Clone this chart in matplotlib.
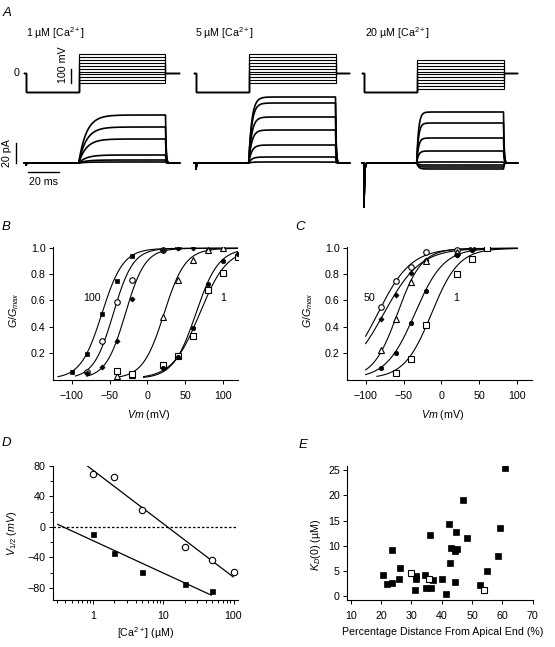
import numpy as np
import matplotlib
matplotlib.use("Agg")
import matplotlib.pyplot as plt
from matplotlib.ticker import MultipleLocator, FixedLocator, LogLocator, NullFormatter, FixedFormatter

plt.rcParams['font.family'] = ['Liberation Sans', 'DejaVu Sans']
plt.rcParams['mathtext.fontset'] = 'custom'
plt.rcParams['mathtext.rm'] = 'Liberation Sans'
plt.rcParams['mathtext.it'] = 'Liberation Sans:italic'
plt.rcParams['mathtext.bf'] = 'Liberation Sans:bold'
FS = 7.7
plt.rcParams['font.size'] = FS

# ---------------- data ----------------
# Panel A: voltage protocols (mV, ms) and current amplitudes (pA)
a_titles = ["1 \u00b5M [Ca$^{2+}$]", "5 \u00b5M [Ca$^{2+}$]", "20 \u00b5M [Ca$^{2+}$]"]
a_hold_mv = -130
a_pre_ms = 34
a_test_ms = 56
a_post_ms = 9
a_steps_1 = [-70, -50, -30, -10, 10, 30, 50, 70, 90, 110, 130]
a_steps_5 = [-70, -50, -30, -10, 10, 30, 50, 70, 90, 110, 130]
a_steps_20 = [-110, -90, -70, -50, -30, -10, 10, 30, 50, 70, 90]
a_amp_1 = [48, 36, 24, 8, 3, 1]
a_amp_5 = [66, 60, 46, 33, 18, 6, 1]
a_amp_20 = [51, 40, 25, 12, 1, -2, -4, -6]
a_tau_ms = [5.0, 2.0, 1.2]
a_cap_pa = [-2, -6, -44]

# Panel B: G/Gmax vs Vm
b_fsq_v = [-100, -80, -60, -40, -20, 20]
b_fsq_g = [0.05, 0.19, 0.50, 0.75, 0.94, 0.99]
b_ocirc_v = [-80, -60, -40, -20, 20, 40]
b_ocirc_g = [0.05, 0.29, 0.59, 0.76, 0.99, 1.01]
b_fdia_v = [-80, -60, -40, -20, 20, 40, 60, 80]
b_fdia_g = [0.04, 0.09, 0.29, 0.61, 0.99, 1.0, 1.0, 0.99]
b_otri_v = [-40, -20, 20, 40, 60, 80, 100]
b_otri_g = [0.02, 0.03, 0.47, 0.76, 0.91, 0.99, 1.0]
b_osq_v = [-40, -20, 20, 40, 60, 80, 100, 120]
b_osq_g = [0.06, 0.035, 0.105, 0.175, 0.33, 0.68, 0.81, 0.93]
b_fcirc_v = [20, 40, 60, 80, 100, 120]
b_fcirc_g = [0.08, 0.17, 0.39, 0.73, 0.90, 0.96]
# Boltzmann fits: (V1/2, slope k, start, end)
b_fits = [(-60, 14, -118, 120), (-45, 13, -95, 120), (-29, 13, -80, 120),
          (22, 14, -38, 120), (64, 15, -5, 120), (69, 18, -5, 120)]

# Panel C
c_ocirc_v = [-80, -60, -40, -20, 20, 40]
c_ocirc_g = [0.55, 0.75, 0.86, 0.97, 0.99, 1.0]
c_fdia_v = [-80, -60, -40, -20, 20, 40]
c_fdia_g = [0.46, 0.64, 0.81, 0.91, 0.95, 0.99]
c_otri_v = [-80, -60, -40, -20, 20, 40]
c_otri_g = [0.22, 0.46, 0.74, 0.90, 0.97, 1.01]
c_fcirc_v = [-80, -60, -40, -20, 20, 40]
c_fcirc_g = [0.08, 0.20, 0.43, 0.67, 0.95, 0.99]
c_osq_v = [-60, -40, -20, 20, 40, 60]
c_osq_g = [0.04, 0.15, 0.41, 0.80, 0.92, 1.0]
c_fits = [(-84, 22, -100, 100), (-76, 24, -100, 100), (-58, 16, -100, 100),
          (-35, 19, -100, 100), (-13, 18, -85, 100)]

# Panel D: V1/2 vs [Ca2+]
d_ca_open = [1, 2, 5, 20, 50, 100]
d_v_open = [70, 66, 22, -27, -43, -59]
d_ca_filled = [1, 2, 5, 20, 50]
d_v_filled = [-9, -34, -59, -75, -84]
# line fits: V = a + b*log10(Ca), drawn over [lo, hi]
d_fit_open = (74, -70, 0.82, 99)
d_fit_filled = (-18.3, -42.4, 0.31, 48)

# Panel E: KD(0) vs distance
e_dist_f = [20.5, 22.1, 23.6, 23.6, 25.9, 26.4, 31.5, 31.5, 31.1, 34.5, 37.2, 34.8, 36.4,
            36.1, 40.2, 41.4, 42.4, 42.6, 43.0, 44.5, 44.9, 44.3, 44.8, 46.9, 48.3, 52.6,
            54.8, 58.5, 59.1, 60.8]
e_kd_f = [4.2, 2.3, 2.5, 9.2, 3.3, 5.5, 4.0, 3.3, 1.2, 4.2, 3.2, 1.5, 1.5,
          12.2, 3.3, 0.4, 14.3, 6.6, 9.5, 8.9, 9.4, 2.8, 12.7, 19.0, 11.6, 2.2,
          4.9, 8.0, 13.5, 25.4]
e_dist_o = [29.8, 35.8, 54.0]
e_kd_o = [4.5, 3.3, 1.2]

# ---------------- figure ----------------
W, H = 555, 647
fig = plt.figure(figsize=(W / 100, H / 100), dpi=100)


def px_axes(x0, y0, x1, y1):
    return fig.add_axes([x0 / W, 1 - y1 / H, (x1 - x0) / W, (y1 - y0) / H])


def ftext(x, y, s, **kw):
    return fig.text(x / W, 1 - y / H, s, **kw)


# ---- Panel A ----
PX_MS = 1.55
PX_MV = 0.143
col_x0 = [26, 196, 364]
steps = [a_steps_1, a_steps_5, a_steps_20]
amps = [a_amp_1, a_amp_5, a_amp_20]
xl = (-26 / PX_MS, 166 / PX_MS)
end_t = a_pre_ms + a_test_ms + a_post_ms
for i in range(3):
    x0 = col_x0[i]
    axv = px_axes(x0 - 26, 40, x0 + 166, 100)
    axv.set_xlim(*xl)
    axv.set_ylim(-(100 - 73) / PX_MV, (73 - 40) / PX_MV)
    axv.axis('off')
    for v in steps[i]:
        t = [-1, 0, 0, a_pre_ms, a_pre_ms, a_pre_ms + a_test_ms, a_pre_ms + a_test_ms, end_t]
        vv = [0, 0, a_hold_mv, a_hold_mv, v, v, 0, 0]
        axv.plot(t, vv, color='k', lw=0.8, solid_joinstyle='miter')

    axi = px_axes(x0 - 26, 85, x0 + 166, 215)
    axi.set_xlim(*xl)
    axi.set_ylim(-52, 78)
    axi.axis('off')
    t = np.linspace(-1.0, end_t, 2000)
    for A in amps[i]:
        I = np.zeros_like(t)
        on = t >= 0
        I[on] += a_cap_pa[i] * np.exp(-t[on] / 0.35)
        act = (t >= a_pre_ms) & (t < a_pre_ms + a_test_ms)
        I[act] += A * (1 - np.exp(-(t[act] - a_pre_ms) / a_tau_ms[i]))
        off = t >= a_pre_ms + a_test_ms
        aend = A * (1 - np.exp(-a_test_ms / a_tau_ms[i]))
        I[off] += aend * np.exp(-(t[off] - a_pre_ms - a_test_ms) / 0.4)
        axi.plot(t, I, color='k', lw=1.2)

    ftext([26.5, 194.7, 364.6][i], 37, a_titles[i], fontsize=FS, ha='left', va='baseline')

    if i == 0:
        # scale bars
        axi.plot([1.3, 21.3], [-9, -9], color='k', lw=1.0)
        axi.text(11, -19, "20 ms", ha='center', va='center', fontsize=FS)
        axi.plot([-6.45, -6.45], [0, 20], color='k', lw=1.0)
        axi.text(-12.3, 10, "20 pA", ha='center', va='center', rotation=90, fontsize=FS)
        axv.plot([29, 29], [-70, 30], color='k', lw=1.0)
        axv.text(23.9, 56, "100 mV", ha='center', va='center', rotation=90, fontsize=FS)
        axv.text(-4.0, 0, "0", ha='right', va='center', fontsize=FS)

ftext(3, 16, "A", fontsize=9.5, style='italic', ha='left', va='baseline')


def style_axes(ax):
    for s in ['top', 'right']:
        ax.spines[s].set_visible(False)
    for s in ['left', 'bottom']:
        ax.spines[s].set_linewidth(0.8)
    ax.tick_params(axis='both', which='major', direction='out', length=3.0, width=0.7,
                   labelsize=FS)
    ax.tick_params(axis='x', which='major', pad=5.0)
    ax.tick_params(axis='y', which='major', pad=2.0)
    ax.tick_params(axis='both', which='minor', direction='out', length=2.2, width=0.7)


def boltz(v, vh, k):
    return 1.0 / (1.0 + np.exp(-(v - vh) / k))


mk_open = dict(mfc='white', mec='k', mew=0.8, ls='none')
mk_fill = dict(mfc='k', mec='k', mew=0.5, ls='none')

# ---- Panel B ----
axB = px_axes(52.7, 247, 238.3, 380)
axB.set_xlim(-125, 120)
axB.set_ylim(-0.01, 1.01)
for vh, k, lo, hi in b_fits:
    vv = np.linspace(lo, hi, 300)
    axB.plot(vv, boltz(vv, vh, k), color='k', lw=0.8)
axB.plot(b_fsq_v, b_fsq_g, marker='s', ms=3.3, **mk_fill)
axB.plot(b_ocirc_v, b_ocirc_g, marker='o', ms=4.0, **mk_open)
axB.plot(b_fdia_v, b_fdia_g, marker='D', ms=2.6, **mk_fill)
axB.plot(b_otri_v, b_otri_g, marker='^', ms=4.0, **mk_open)
axB.plot(b_osq_v, b_osq_g, marker='s', ms=3.8, **mk_open)
axB.plot(b_fcirc_v, b_fcirc_g, marker='o', ms=3.2, **mk_fill)
axB.set_xticks([-100, -50, 0, 50, 100])
axB.set_yticks([0.2, 0.4, 0.6, 0.8, 1.0])
axB.set_yticklabels(["0.2", "0.4", "0.6", "0.8", "1.0"])
style_axes(axB)
axB.text(-73, 0.62, "100", ha='center', va='center', fontsize=FS)
axB.text(99.5, 0.62, "1", ha='center', va='center', fontsize=FS)
ftext(2, 230, "B", fontsize=9.5, style='italic', ha='left', va='baseline')
ftext(14, 310, r"$G/G_{max}$", rotation=90, ha='center', va='center', fontsize=FS)
ftext(149, 415, r"$Vm$ (mV)", ha='center', va='center', fontsize=FS)

# ---- Panel C ----
axC = px_axes(346.7, 247, 532.3, 380)
axC.set_xlim(-125, 120)
axC.set_ylim(-0.01, 1.01)
for vh, k, lo, hi in c_fits:
    vv = np.linspace(lo, hi, 300)
    axC.plot(vv, boltz(vv, vh, k), color='k', lw=0.8)
axC.plot(c_ocirc_v, c_ocirc_g, marker='o', ms=4.0, **mk_open)
axC.plot(c_fdia_v, c_fdia_g, marker='D', ms=2.6, **mk_fill)
axC.plot(c_otri_v, c_otri_g, marker='^', ms=4.0, **mk_open)
axC.plot(c_fcirc_v, c_fcirc_g, marker='o', ms=3.2, **mk_fill)
axC.plot(c_osq_v, c_osq_g, marker='s', ms=3.8, **mk_open)
axC.set_xticks([-100, -50, 0, 50, 100])
axC.set_yticks([0.2, 0.4, 0.6, 0.8, 1.0])
axC.set_yticklabels(["0.2", "0.4", "0.6", "0.8", "1.0"])
style_axes(axC)
axC.text(-95, 0.62, "50", ha='center', va='center', fontsize=FS)
axC.text(19, 0.62, "1", ha='center', va='center', fontsize=FS)
ftext(295, 229.5, "C", fontsize=9.5, style='italic', ha='left', va='baseline')
ftext(308, 310, r"$G/G_{max}$", rotation=90, ha='center', va='center', fontsize=FS)
ftext(442.5, 415, r"$Vm$ (mV)", ha='center', va='center', fontsize=FS)

# ---- Panel D ----
axD = px_axes(52.7, 465.8, 238.3, 600)
axD.set_xscale('log')
axD.set_xlim(0.263, 117)
axD.set_ylim(-96, 80.2)
axD.axhline(0, color='k', lw=0.9, dashes=(2.0, 1.6))
for a, b, lo, hi in [d_fit_open, d_fit_filled]:
    cc = np.logspace(np.log10(lo), np.log10(hi), 50)
    axD.plot(cc, a + b * np.log10(cc), color='k', lw=0.9)
axD.plot(d_ca_open, d_v_open, marker='o', ms=4.6, **mk_open)
axD.plot(d_ca_filled, d_v_filled, marker='s', ms=3.6, **mk_fill)
axD.xaxis.set_major_locator(FixedLocator([1, 10, 100]))
axD.xaxis.set_major_formatter(FixedFormatter(["1", "10", "100"]))
axD.xaxis.set_minor_locator(LogLocator(base=10, subs=np.arange(2, 10), numticks=12))
axD.xaxis.set_minor_formatter(NullFormatter())
axD.yaxis.set_major_locator(FixedLocator([-80, -40, 0, 40, 80]))
axD.yaxis.set_minor_locator(MultipleLocator(20))
style_axes(axD)
ftext(2, 446, "D", fontsize=9.5, style='italic', ha='left', va='baseline')
ftext(12, 533, r"$V_{1/2}\ (mV)$", rotation=90, ha='center', va='center', fontsize=FS)
ftext(146, 633, "[Ca$^{2+}$] (\u00b5M)", ha='center', va='center', fontsize=FS)

# ---- Panel E ----
axE = px_axes(346.7, 465.7, 532.7, 600)
axE.set_xlim(8.7, 70)
axE.set_ylim(-0.8, 25.9)
axE.plot(e_dist_f, e_kd_f, marker='s', ms=3.8, **mk_fill)
axE.plot(e_dist_o, e_kd_o, marker='s', ms=3.8, **mk_open)
axE.set_xticks([10, 20, 30, 40, 50, 60, 70])
axE.set_yticks([0, 5, 10, 15, 20, 25])
style_axes(axE)
ftext(299, 448, "E", fontsize=9.5, style='italic', ha='left', va='baseline')
ftext(316.5, 545, "$K_D(0)$ (\u00b5M)", rotation=90, ha='center', va='center', fontsize=FS)
ftext(443, 632, "Percentage Distance From Apical End (%)", ha='center', va='center', fontsize=FS)

fig.savefig("out.png", dpi=100)
